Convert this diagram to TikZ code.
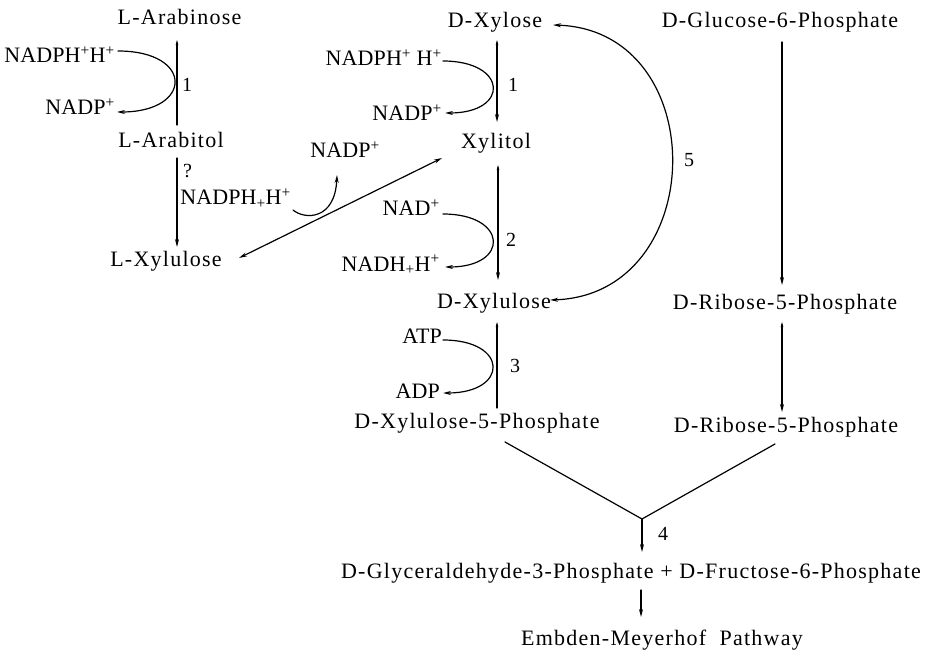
\documentclass[tikz,border=0pt]{standalone}
\usepackage{fontspec}
\setmainfont{Liberation Serif}[LetterSpace=5.7]
\usetikzlibrary{arrows.meta}
\tikzset{
  lbl/.style={inner sep=0pt, anchor=base, font=\fontsize{22}{26}\selectfont},
  cof/.style={inner sep=0pt, anchor=base east, font=\fontsize{22}{26}\selectfont\addfontfeature{LetterSpace=0.5}},
  num/.style={inner sep=0pt, anchor=base west, font=\fontsize{20}{24}\selectfont},
  ln/.style={line width=1.2pt, line cap=round},
  tip/.style={ln, -{Stealth[length=8pt,width=4pt]}},
  tipboth/.style={ln, {Stealth[length=8pt,width=4pt]}-{Stealth[length=8pt,width=4pt]}},
  smalltip/.style={ln, {Stealth[length=5pt,width=2.6pt]}-},
  smalltipboth/.style={ln, {Stealth[length=5pt,width=2.6pt]}-{Stealth[length=8pt,width=4pt]}},
}
\begin{document}
\begin{tikzpicture}[x=1pt,y=-1pt]
\useasboundingbox (0,0) rectangle (928,652);

% ---- left column
\node[lbl] (lara) at (179.5,25) {L-Arabinose};
\node[cof] (nadphA) at (115,63) {NADPH\textsuperscript{+}H\textsuperscript{+}};
\node[num] (n1a) at (182,92) {1};
\node[cof] (nadpA) at (115,115) {NADP\textsuperscript{+}};
\node[lbl] (larabitol) at (171,148) {L-Arabitol};
\node[num] (q) at (183,178) {?};
\node[cof] (nadphB) at (291,205) {NADPH\textsubscript{+}H\textsuperscript{+}};
\node[lbl] (lxyl) at (166,266) {L-Xylulose};

% ---- middle column
\node[lbl] (dxylose) at (495,28) {D-Xylose};
\node[cof] (nadphC) at (442,66) {NADPH\textsuperscript{+} H\textsuperscript{+}};
\node[num] (n1b) at (508,92) {1};
\node[cof] (nadpC) at (442,121) {NADP\textsuperscript{+}};
\node[lbl] (xylitol) at (496,149) {Xylitol};
\node[cof,anchor=base] (nadpB) at (345,158) {NADP\textsuperscript{+}};
\node[cof] (nad) at (440,216) {NAD\textsuperscript{+}};
\node[num] (n2) at (506,247) {2};
\node[cof] (nadh) at (440,271) {NADH\textsubscript{+}H\textsuperscript{+}};
\node[lbl] (dxylulose) at (494,308) {D-Xylulose};
\node[cof] (atp) at (442,343) {ATP};
\node[num] (n3) at (510,372) {3};
\node[cof] (adp) at (440,398) {ADP};
\node[lbl] (x5p) at (477,428) {D-Xylulose-5-Phosphate};

% ---- right column
\node[lbl] (g6p) at (780,28) {D-Glucose-6-Phosphate};
\node[num] (n5) at (684,167) {5};
\node[lbl] (r5pa) at (785,309) {D-Ribose-5-Phosphate};
\node[lbl] (r5pb) at (786,432) {D-Ribose-5-Phosphate};

% ---- bottom
\coordinate (vtx) at (642,519);
\node[num] (n4) at (658,540) {4};
\node[lbl] (products) at (631,578) {D-Glyceraldehyde-3-Phosphate + D-Fructose-6-Phosphate};
\node[lbl] (emp) at (662,645) {Embden-Meyerhof\ \ Pathway};

% ---- vertical reaction lines
\draw[smalltip] ([xshift=-2.5pt,yshift=-15pt]lara.base) -- ([xshift=6pt,yshift=23pt]larabitol.base);
\draw[tip] ([xshift=6pt,yshift=-10pt]larabitol.base) -- ([xshift=11pt,yshift=19pt]lxyl.base);
\draw[smalltipboth] ([xshift=2pt,yshift=-12pt]dxylose.base) -- ([xshift=1pt,yshift=27pt]xylitol.base);
\draw[smalltipboth] ([xshift=2pt,yshift=-16pt]xylitol.base) -- ([xshift=4pt,yshift=28pt]dxylulose.base);
\draw[smalltip] ([xshift=3pt,yshift=-14pt]dxylulose.base) -- ([xshift=20pt,yshift=20pt]x5p.base);
\draw[tip] ([xshift=2pt,yshift=-14pt]g6p.base) -- ([xshift=-3pt,yshift=24pt]r5pa.base);
\draw[smalltipboth] ([xshift=-3pt,yshift=-13pt]r5pa.base) -- ([xshift=-4pt,yshift=20pt]r5pb.base);

% ---- diagonal L-Xylulose <-> Xylitol
\draw[tipboth] ([xshift=73pt,yshift=8pt]lxyl.base) -- ([xshift=-54pt,yshift=-9pt]xylitol.base);

% ---- reaction 5
\draw[tipboth] ([xshift=58pt,yshift=3pt]dxylose.base) .. controls +(160,5) and +(160,-5) .. ([xshift=56pt,yshift=8pt]dxylulose.base);

% ---- cofactor curves
\draw[tip] ([xshift=3pt,yshift=12pt]nadphA.base east) .. controls +(76,0) and +(76,0) .. ([xshift=2pt,yshift=3pt]nadpA.base east);
\draw[tip] ([xshift=1pt,yshift=5pt]nadphC.base east) .. controls +(65,0) and +(65,0) .. ([xshift=3pt,yshift=8pt]nadpC.base east);
\draw[tip] ([xshift=3pt,yshift=2pt]nad.base east) .. controls +(65,0) and +(65,0) .. ([xshift=5pt,yshift=4pt]nadh.base east);
\draw[tip] ([xshift=1pt,yshift=3pt]atp.base east) .. controls +(66,0) and +(66,0) .. ([xshift=3pt,yshift=5pt]adp.base east);
\draw[tip] ([xshift=2pt,yshift=-5pt]nadphB.base east) .. controls +(12,10) and +(-2,45) .. ([xshift=-8pt,yshift=-17pt]nadpB.base);

% ---- convergence to reaction 4
\draw[ln] ([xshift=28pt,yshift=-14pt]x5p.base) -- (vtx);
\draw[ln] ([xshift=-11pt,yshift=-12pt]r5pb.base) -- (vtx);
\draw[tip] (vtx) -- ([xshift=11pt,yshift=26pt]products.base);
\draw[tip] ([xshift=10pt,yshift=-12pt]products.base) -- ([xshift=-21pt,yshift=28pt]emp.base);
\end{tikzpicture}
\end{document}
